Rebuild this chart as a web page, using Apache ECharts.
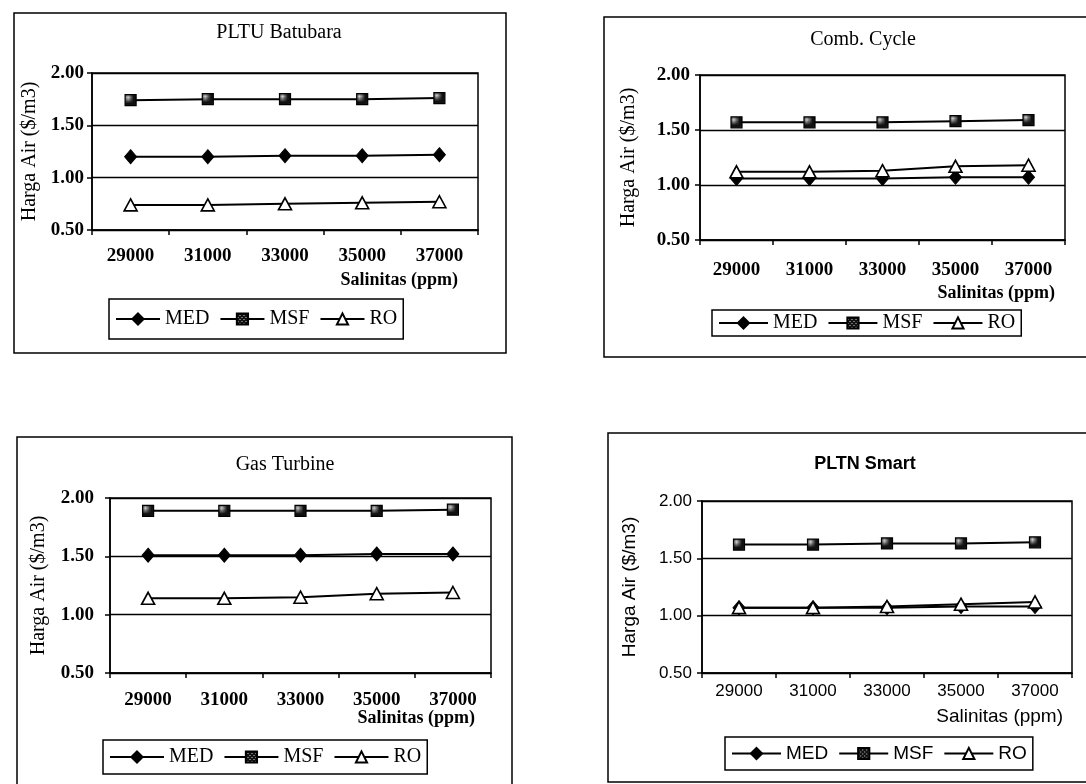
<!DOCTYPE html>
<html>
<head>
<meta charset="utf-8">
<script src="https://cdn.jsdelivr.net/npm/echarts@6/dist/echarts.min.js"></script>
<style>
html,body{margin:0;padding:0;background:#fff;}
#chart{width:1086px;height:784px;}
</style>
</head>
<body>
<div id="chart"></div>
<script>
// ---- data ----
const categories = ['29000', '31000', '33000', '35000', '37000'];
const seriesNames = ['MED', 'MSF', 'RO'];
const panelTitles = ['PLTU Batubara', 'Comb. Cycle', 'Gas Turbine', 'PLTN Smart'];
const yAxisTitle = 'Harga Air ($/m3)';
const xAxisTitle = 'Salinitas (ppm)';

const batubaraMED = [1.20, 1.20, 1.21, 1.21, 1.22];
const batubaraMSF = [1.74, 1.75, 1.75, 1.75, 1.76];
const batubaraRO  = [0.74, 0.74, 0.75, 0.76, 0.77];

const combCycleMED = [1.06, 1.06, 1.06, 1.07, 1.07];
const combCycleMSF = [1.57, 1.57, 1.57, 1.58, 1.59];
const combCycleRO  = [1.12, 1.12, 1.13, 1.17, 1.18];

const gasTurbineMED = [1.51, 1.51, 1.51, 1.52, 1.52];
const gasTurbineMSF = [1.89, 1.89, 1.89, 1.89, 1.90];
const gasTurbineRO  = [1.14, 1.14, 1.15, 1.18, 1.19];

const pltnMED = [1.07, 1.07, 1.07, 1.08, 1.08];
const pltnMSF = [1.62, 1.62, 1.63, 1.63, 1.64];
const pltnRO  = [1.07, 1.07, 1.08, 1.10, 1.12];

const yMin = 0.5, yMax = 2.0, yInterval = 0.5;

// ---- layout / style ----
const panelData = [
  [batubaraMED, batubaraMSF, batubaraRO],
  [combCycleMED, combCycleMSF, combCycleRO],
  [gasTurbineMED, gasTurbineMSF, gasTurbineRO],
  [pltnMED, pltnMSF, pltnRO]
];
const serif = 'Liberation Serif, Times New Roman, serif';
const sans = 'Liberation Sans, Arial, sans-serif';
const layouts = [
  { box:[14,13,492,340], title:[274,30], grid:[92,73,386,157], font:serif, fs:19, tfs:20, nfs:20, sfs:18, lfs:20,
    xMargin:17, yMargin:8, nameGap:52, sal:[458,280], legend:[109,299], legPadV:10, legW:44 },
  { box:[604,17,500,340], title:[858,37], grid:[700,75,365,165], font:serif, fs:19, tfs:20, nfs:20, sfs:18, lfs:20,
    xMargin:21, yMargin:10, nameGap:61, sal:[1055,293], legend:[712,310], legPadV:3, legW:49 },
  { box:[17,437,495,370], title:[280,462], grid:[110,498,381,175], font:serif, fs:19, tfs:20, nfs:20, sfs:18, lfs:20,
    xMargin:18, yMargin:16, nameGap:61, sal:[475,718], legend:[103,740], legPadV:7, legW:54 },
  { box:[608,433,500,349], title:[860,462], grid:[702,501,370,172], font:sans, fs:17, tfs:18, nfs:19, sfs:19, lfs:19,
    xMargin:10, yMargin:10, nameGap:63, sal:[1063,717], legend:[725,737], legPadV:7, legW:49, sansTitle:true }
];

function makePattern() {
  const c = document.createElement('canvas');
  c.width = 4; c.height = 4;
  const g = c.getContext('2d');
  g.fillStyle = '#111'; g.fillRect(0, 0, 4, 4);
  g.fillStyle = '#d0d0d0'; g.fillRect(1, 1, 1, 1); g.fillRect(3, 3, 1, 1);
  return c;
}
const msfPattern = { image: makePattern(), repeat: 'repeat' };

const symbolStyles = [
  { symbol:'diamond', symbolSize:[12,14], itemStyle:{ color:'#000', borderColor:'#000', borderWidth:1 } },
  { symbol:'rect', symbolSize:11, itemStyle:{ color: msfPattern, borderColor:'#000', borderWidth:1.2 } },
  { symbol:'triangle', symbolSize:[13,12], itemStyle:{ color:'#fff', borderColor:'#000', borderWidth:1.6 } }
];

const grids = [], xAxes = [], yAxes = [], series = [], titles = [], legends = [], graphics = [];

layouts.forEach((L, i) => {
  graphics.push({
    type:'rect', shape:{ x:L.box[0], y:L.box[1], width:L.box[2], height:L.box[3] },
    style:{ fill:'none', stroke:'#000', lineWidth:1.5 }, silent:true
  });
  graphics.push({
    type:'text', x:L.sal[0], y:L.sal[1], silent:true,
    style:{ text:xAxisTitle, fill:'#000', font:(L.sansTitle ? 'normal ' : 'bold ') + (L.sfs) + 'px ' + L.font,
            align:'right', verticalAlign:'middle' }
  });
  titles.push({
    text: panelTitles[i], left: L.title[0], top: L.title[1] - 12, textAlign:'center',
    textStyle:{ fontFamily:L.font, fontSize:L.tfs, fontWeight: L.sansTitle ? 'bold' : 'normal', color:'#000' }
  });
  grids.push({
    left:L.grid[0], top:L.grid[1], width:L.grid[2], height:L.grid[3],
    show:true, borderColor:'#000', borderWidth:1.5, backgroundColor:'transparent'
  });
  xAxes.push({
    type:'category', gridIndex:i, data:categories, boundaryGap:true,
    axisLine:{ lineStyle:{ color:'#000', width:1.5 } },
    axisTick:{ show:true, alignWithLabel:false, length:5, lineStyle:{ color:'#000', width:1.5 } },
    axisLabel:{ color:'#000', fontFamily:L.font, fontSize:L.fs, fontWeight: L.sansTitle ? 'normal' : 'bold', margin:L.xMargin }
  });
  yAxes.push({
    type:'value', gridIndex:i, min:yMin, max:yMax, interval:yInterval,
    name: yAxisTitle, nameLocation:'middle', nameGap:L.nameGap,
    nameTextStyle:{ color:'#000', fontFamily:L.font, fontSize:L.nfs },
    axisLine:{ show:true, lineStyle:{ color:'#000', width:1.5 } },
    axisTick:{ show:true, length:5, lineStyle:{ color:'#000', width:1.5 } },
    splitLine:{ show:true, lineStyle:{ color:'#000', width:1.3 } },
    axisLabel:{ color:'#000', fontFamily:L.font, fontSize:L.fs, fontWeight: L.sansTitle ? 'normal' : 'bold', margin:L.yMargin,
                formatter: v => v.toFixed(2) }
  });
  seriesNames.forEach((nm, k) => {
    series.push({
      name:nm, type:'line', xAxisIndex:i, yAxisIndex:i, data:panelData[i][k],
      showSymbol:true, animation:false, z: 3 + k,
      symbol: symbolStyles[k].symbol, symbolSize: symbolStyles[k].symbolSize,
      lineStyle:{ color:'#000', width:2 },
      itemStyle: symbolStyles[k].itemStyle
    });
  });
  legends.push({
    data: seriesNames, left:L.legend[0], top:L.legend[1], orient:'horizontal',
    itemWidth:L.legW, itemHeight:14, itemGap:10,
    padding:[L.legPadV, 6, L.legPadV, 6],
    borderColor:'#000', borderWidth:1.5, backgroundColor:'#fff',
    textStyle:{ color:'#000', fontFamily:L.font, fontSize:L.lfs },
    selectedMode:false
  });
});

const chart = echarts.init(document.getElementById('chart'), null, { renderer:'canvas' });
chart.setOption({
  backgroundColor:'#fff',
  animation:false,
  title: titles,
  grid: grids,
  xAxis: xAxes,
  yAxis: yAxes,
  legend: legends,
  series: series,
  graphic: graphics
});
</script>
</body>
</html>
